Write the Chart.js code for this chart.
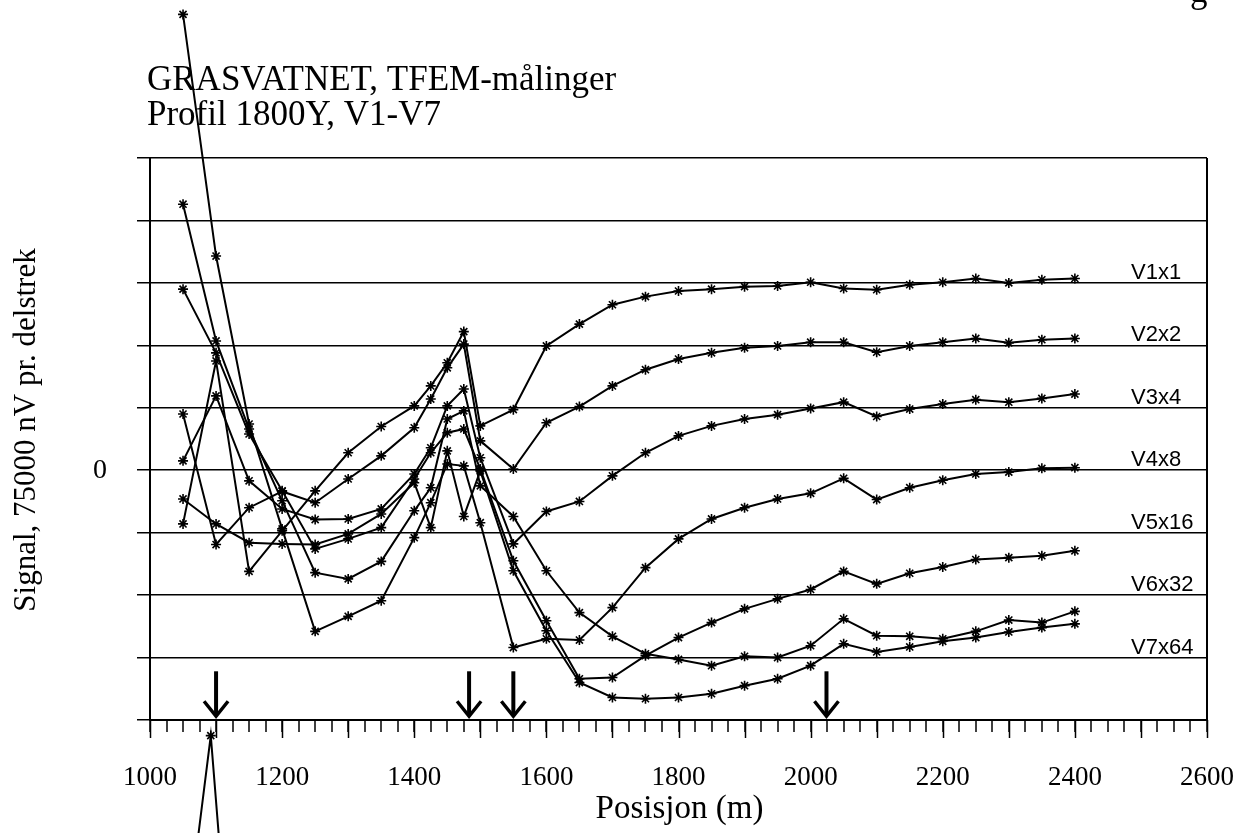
<!DOCTYPE html>
<html>
<head>
<meta charset="utf-8">
<script src="https://cdn.jsdelivr.net/npm/chart.js@4.4.1/dist/chart.umd.min.js"></script>
<style>
    html, body { margin: 0; padding: 0; background: #fff; }
</style>
</head>
<body>
<canvas id="tfemChart" width="1246" height="833"></canvas>
<script>
// measurement positions (m)
const positions = [1050, 1100, 1150, 1200, 1250, 1300, 1350, 1400, 1425, 1450, 1475, 1500, 1550, 1600,
    1650, 1700, 1750, 1800, 1850, 1900, 1950, 2000, 2050, 2100, 2150, 2200, 2250, 2300, 2350, 2400];

// signal per channel, in grid units (one unit = one delstrek)
const v1 = [-0.86, 1.75, -1.62, -0.97, -0.33, 0.28, 0.70, 1.03, 1.35, 1.72, 2.22, 0.71, 0.97, 1.99,
    2.34, 2.65, 2.78, 2.87, 2.90, 2.94, 2.95, 3.01, 2.91, 2.89, 2.97, 3.01, 3.07, 3.00, 3.05, 3.07];
const v2 = [0.90, -1.19, -0.60, -0.34, -0.52, -0.14, 0.23, 0.68, 1.14, 1.64, 2.02, 0.47, 0.02, 0.76,
    1.02, 1.35, 1.61, 1.78, 1.88, 1.96, 1.99, 2.05, 2.05, 1.89, 1.99, 2.05, 2.11, 2.04, 2.09, 2.11];
const v3 = [0.15, 1.19, -0.17, -0.62, -0.79, -0.78, -0.62, -0.06, 0.36, 1.03, 1.30, 0.20, -1.18, -0.66,
    -0.50, -0.09, 0.28, 0.55, 0.71, 0.82, 0.89, 0.99, 1.09, 0.86, 0.98, 1.06, 1.13, 1.09, 1.15, 1.22];
const v4 = [7.30, 3.43, 0.74, -0.94, -2.58, -2.34, -2.09, -1.08, -0.52, 0.10, 0.07, -0.84, -2.84, -2.70,
    -2.72, -2.20, -1.56, -1.10, -0.78, -0.60, -0.46, -0.37, -0.13, -0.47, -0.28, -0.16, -0.06, -0.03, 0.03, 0.04];
const v5 = [2.90, 1.88, 0.58, -0.33, -1.26, -1.10, -0.92, -0.14, 0.28, 0.60, 0.66, 0.02, -1.45, -2.41,
    -3.34, -3.32, -2.97, -2.68, -2.44, -2.22, -2.06, -1.91, -1.62, -1.82, -1.65, -1.55, -1.43, -1.40, -1.37, -1.29];
const v6 = [4.26, 2.07, 0.66, -0.49, -1.64, -1.74, -1.46, -0.65, -0.28, 0.82, 0.95, -0.25, -0.74, -1.61,
    -2.28, -2.66, -2.94, -3.03, -3.13, -2.98, -3.00, -2.81, -2.38, -2.65, -2.66, -2.70, -2.58, -2.40, -2.44, -2.26];
const v7 = [-0.46, -0.86, -1.16, -1.18, -1.19, -1.02, -0.70, -0.20, -0.92, 0.31, -0.74, -0.01, -1.61, -2.57,
    -3.40, -3.64, -3.66, -3.64, -3.58, -3.45, -3.34, -3.13, -2.78, -2.91, -2.83, -2.74, -2.68, -2.59, -2.52, -2.46];

// stray line crossing in from below the plot
const strayX = [1050, 1092, 1150];
const strayY = [-7.8, -4.25, -11.9];

const channelNames = ["V1x1", "V2x2", "V3x4", "V4x8", "V5x16", "V6x32", "V7x64"];
const channelLevels = [3, 2, 1, 0, -1, -2, -3];
const xTickLabels = [1000, 1200, 1400, 1600, 1800, 2000, 2200, 2400, 2600];
const arrowPositions = [1100, 1483, 1550, 2024];

const serif = "'Liberation Serif', 'Times New Roman', serif";
const sans = "'Liberation Sans', Arial, sans-serif";

function toPoints(xs, ys) {
    return ys.map((y, i) => ({ x: xs[i], y: y }));
}

function lineSet(label, xs, ys) {
    return {
        label: label,
        data: toPoints(xs, ys),
        borderColor: "#000",
        borderWidth: 2,
        pointStyle: "star",
        pointRadius: 5,
        pointBorderColor: "#000",
        pointBorderWidth: 1.6,
        fill: false,
        tension: 0,
        clip: false,
    };
}

// Chart.js skips points outside the chart area, the reference shows them
const outsidePoints = {
    id: "outsidePoints",
    afterDatasetsDraw(chart) {
        const a = chart.chartArea;
        const everywhere = { left: -1e5, top: -1e5, right: 1e5, bottom: 1e5 };
        chart.data.datasets.forEach((ds, i) => {
            chart.getDatasetMeta(i).data.forEach((pt) => {
                if (pt.y < a.top || pt.y > a.bottom) pt.draw(chart.ctx, everywhere);
            });
        });
    },
};

const decorations = {
    id: "decorations",
    afterDraw(chart) {
        const ctx = chart.ctx;
        const xs = chart.scales.x;
        const ys = chart.scales.y;
        const area = chart.chartArea;
        ctx.save();
        ctx.fillStyle = "#000";
        ctx.strokeStyle = "#000";

        // longer ticks every 100 m
        ctx.lineWidth = 1.5;
        for (let v = 1000; v <= 2600; v += 100) {
            const px = Math.round(xs.getPixelForValue(v)) + 0.5;
            ctx.beginPath();
            ctx.moveTo(px, area.bottom);
            ctx.lineTo(px, area.bottom + 18);
            ctx.stroke();
        }

        // x tick labels
        ctx.font = "27px " + serif;
        ctx.textAlign = "center";
        ctx.textBaseline = "alphabetic";
        xTickLabels.forEach((v) => {
            ctx.fillText(String(v), xs.getPixelForValue(v), area.bottom + 65);
        });

        // axis titles
        ctx.font = "33px " + serif;
        ctx.fillText("Posisjon (m)", (area.left + area.right) / 2 + 1, area.bottom + 98);

        ctx.font = "31px " + serif;
        ctx.save();
        ctx.translate(35, 430);
        ctx.rotate(-Math.PI / 2);
        ctx.textAlign = "center";
        ctx.fillText("Signal, 75000 nV pr. delstrek", 0, 0);
        ctx.restore();

        // chart title
        ctx.font = "35px " + serif;
        ctx.textAlign = "left";
        ctx.fillText("GRASVATNET, TFEM-målinger", 147, 90);
        ctx.fillText("Profil 1800Y, V1-V7", 147, 125);

        // cut-off letter at the top edge
        ctx.fillText("g", 1190, 2);

        // channel labels
        ctx.font = "22px " + sans;
        channelNames.forEach((name, i) => {
            ctx.fillText(name, xs.getPixelForValue(2485), ys.getPixelForValue(channelLevels[i]) - 4);
        });

        // arrows
        arrowPositions.forEach((v) => {
            const px = xs.getPixelForValue(v);
            const top = ys.getPixelForValue(-3.22);
            const tip = ys.getPixelForValue(-3.94);
            ctx.lineWidth = 4;
            ctx.beginPath();
            ctx.moveTo(px, top);
            ctx.lineTo(px, tip - 2);
            ctx.stroke();
            ctx.lineWidth = 3.5;
            ctx.beginPath();
            ctx.moveTo(px - 12, tip - 15);
            ctx.lineTo(px, tip);
            ctx.lineTo(px + 12, tip - 15);
            ctx.stroke();
        });
        ctx.restore();
    },
};

const datasets = [
    lineSet("V1", positions, v1),
    lineSet("V2", positions, v2),
    lineSet("V3", positions, v3),
    lineSet("V4", positions, v4),
    lineSet("V5", positions, v5),
    lineSet("V6", positions, v6),
    lineSet("V7", positions, v7),
    lineSet("", strayX, strayY),
];

new Chart(document.querySelector("#tfemChart"), {
    type: "line",
    data: { datasets: datasets },
    plugins: [outsidePoints, decorations],
    options: {
        responsive: false,
        animation: false,
        events: [],
        layout: { padding: { left: 50, right: 39, top: 158, bottom: 33 } },
        plugins: {
            legend: { display: false },
            tooltip: { enabled: false },
        },
        scales: {
            x: {
                type: "linear",
                min: 1000,
                max: 2600,
                afterFit: (s) => { s.height = 80; },
                border: { display: true, color: "#000", width: 2 },
                grid: {
                    drawOnChartArea: true,
                    color: (c) => (c.tick && c.tick.value === 2600 ? "#000" : "rgba(0,0,0,0)"),
                    lineWidth: 2,
                    tickLength: 12,
                    tickColor: "#000",
                    tickWidth: 1.5,
                },
                ticks: {
                    stepSize: 25,
                    autoSkip: false,
                    maxRotation: 0,
                    callback: () => "",
                },
            },
            y: {
                min: -4,
                max: 5,
                afterFit: (s) => { s.width = 100; },
                border: { display: true, color: "#000", width: 2 },
                grid: {
                    color: "#000",
                    lineWidth: 1.5,
                    tickLength: 13,
                    tickColor: "#000",
                    tickWidth: 1.5,
                },
                ticks: {
                    stepSize: 1,
                    padding: 30,
                    color: "#000",
                    font: { family: "Liberation Serif", size: 28 },
                    callback: (v) => (v === 0 ? "0" : ""),
                },
            },
        },
    },
});
</script>
</body>
</html>
